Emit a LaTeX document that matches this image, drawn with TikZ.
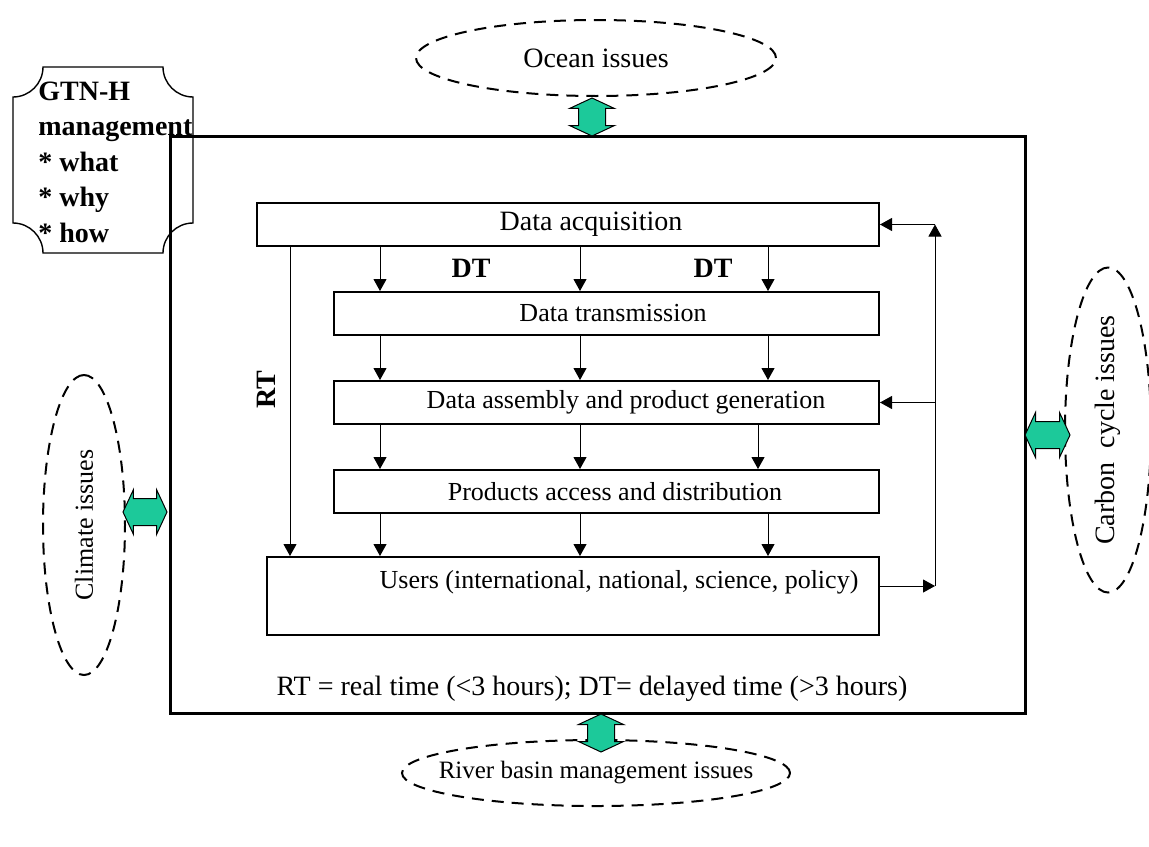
\documentclass[tikz,border=0pt]{standalone}
\usepackage{fontspec}
\setmainfont{Liberation Serif}
\usetikzlibrary{shapes.geometric,shapes.arrows,arrows.meta,positioning}
\definecolor{flowgreen}{HTML}{1CC99A}
\tikzset{
  procbox/.style={rectangle,draw,line width=1pt,minimum height=21.5pt,inner sep=0pt,
                  font=\fontsize{13pt}{16pt}\selectfont},
  issue/.style={ellipse,draw,dashed,dash pattern=on 6pt off 4pt,line width=1pt,inner sep=0pt,
                font=\fontsize{14pt}{17pt}\selectfont},
  link/.style={-{Triangle[length=6pt,width=6.5pt]},line width=0.5pt},
  exchange/.style={double arrow,draw,line width=0.5pt,fill=flowgreen,inner xsep=0pt,inner ysep=6.5pt,
                   double arrow head extend=4.5pt,double arrow tip angle=130},
  tag/.style={font=\fontsize{14pt}{17pt}\selectfont\bfseries,inner sep=0pt},
}

\begin{document}
\begin{tikzpicture}[x=0.5pt,y=-0.5pt]
\useasboundingbox (0,0) rectangle (1149,846);
% management plaque
\draw[line width=0.7pt] (43,67) -- (163,67) .. controls (163,83.5) and (176.5,97) .. (193,97)
  -- (193,223) .. controls (176.5,223) and (163,236.5) .. (163,253)
  -- (43,253) .. controls (43,236.5) and (29.5,223) .. (13,223)
  -- (13,97) .. controls (29.5,97) and (43,83.5) .. (43,67) -- cycle;
\node[tag,anchor=west,align=left,font=\fontsize{14pt}{17.75pt}\selectfont\bfseries] (gtnh) at (38,162)
  {GTN-H\\management\\* what\\* why\\* how};
% outer frame
\node[rectangle,draw,line width=1.5pt,minimum width=427.5pt,minimum height=288.5pt] (frame) at (597.5,424.5) {};
\node[font=\fontsize{14pt}{17pt}\selectfont,inner sep=0pt] (legend) at (592,689)
  {RT = real time (<3 hours); DT= delayed time (>3 hours)};
% chain of stages
\node[procbox,minimum width=311pt,font=\fontsize{14pt}{17pt}\selectfont] (acq) at (568,224.5) {\hspace*{23pt}Data acquisition};
\node[procbox,minimum width=272.5pt] (trans) at (606.5,313.5) {\hspace*{6.5pt}Data transmission};
\node[procbox,minimum width=272.5pt] (asm)   at (606.5,402.5) {\hspace*{19.5pt}Data assembly and product generation};
\node[procbox,minimum width=272.5pt] (prod)  at (606.5,491.5) {\hspace*{8.5pt}Products access and distribution};
\node[procbox,minimum width=306pt,minimum height=39pt,text depth=17pt] (users) at (573,596)
  {\hspace*{46pt}Users (international, national, science, policy)};
\foreach \u/\l/\xc in {acq/trans/768,trans/asm/768,asm/prod/758,prod/users/768}{
  \foreach \xa in {380,580,\xc}
    \draw[link] (\u.south -| \xa,0) -- (\l.north -| \xa,0);
}
\node[tag] (dt1) at (471,268) {DT};
\node[tag] (dt2) at (713,268) {DT};
% real time path
\draw[link] (acq.south -| 290,0) -- (users.north -| 290,0);
\node[tag,rotate=90] (rt) at (266,390) {RT};
% feedback
\coordinate (fb) at (935,0);
\draw[link] ([yshift=5pt]users.east) -- ([yshift=5pt]users.east -| fb);
\draw[link] ([yshift=5pt]users.east -| fb) -- (acq.east -| fb);
\draw[link] (acq.east -| fb) -- (acq.east);
\draw[link] (asm.east -| fb) -- (asm.east);
% surrounding issues
\node[issue,minimum width=180pt,minimum height=38pt] (ocean) at (596,58) {Ocean issues};
\node[issue,minimum width=194pt,minimum height=33pt,inner xsep=-12pt,font=\fontsize{12.5pt}{15pt}\selectfont] (river) at (596,773) {River basin management issues};
\node[issue,rotate=90,minimum width=150pt,minimum height=41pt,font=\fontsize{13pt}{16pt}\selectfont] (climate) at (84,525) {Climate issues};
\node[issue,rotate=90,minimum width=162.5pt,minimum height=43pt] (carbon) at (1108,430) {Carbon\ \ cycle issues};
\node[exchange,rotate=90,minimum height=19pt] (xocean) at (592,117) {};
\node[exchange,rotate=90,minimum height=19pt] (xriver) at (601,733) {};
\node[exchange,minimum height=22pt] (xclimate) at (145,512) {};
\node[exchange,minimum height=22.5pt] (xcarbon) at (1047.5,435) {};
\end{tikzpicture}
\end{document}
